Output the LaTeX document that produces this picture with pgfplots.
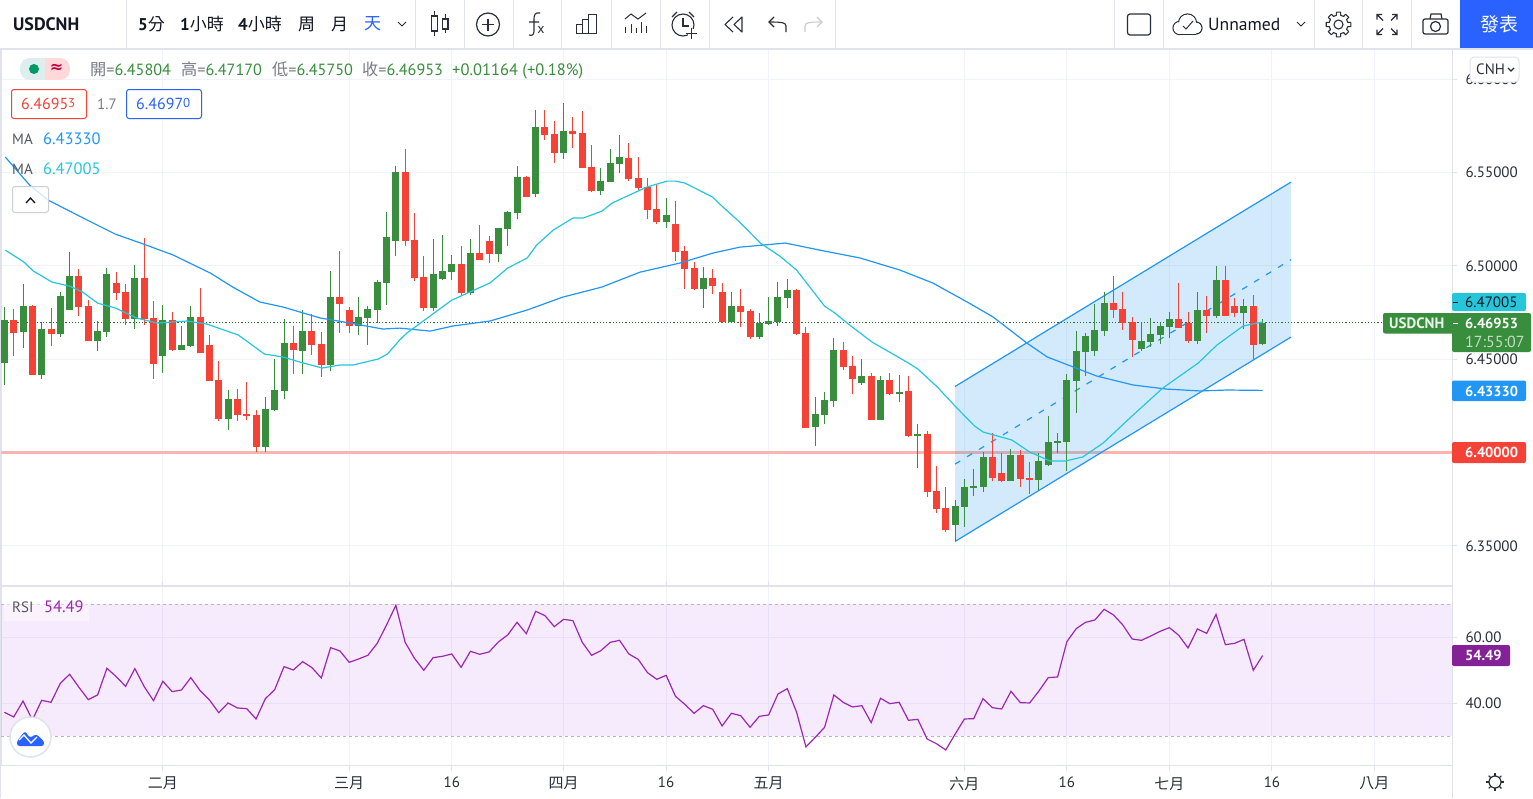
\documentclass[border=0pt]{standalone}
\usepackage{fontspec}
\usepackage{pgfplots}
\usepackage{pgfplotstable}
\pgfplotsset{compat=1.18}
\setmainfont{PT Sans}
\newfontfamily\cjk{Noto Sans CJK TC}
\newfontfamily\sym{DejaVu Sans}
\newcommand\fs[1]{\fontsize{#1}{#1}\selectfont}

\definecolor{upg}{HTML}{388E3C}
\definecolor{dnr}{HTML}{F44336}
\definecolor{gridc}{HTML}{F0F3FA}
\definecolor{framec}{HTML}{E0E3EB}
\definecolor{blueMA}{HTML}{2196F3}
\definecolor{cyanMA}{HTML}{26C6DA}
\definecolor{rsic}{HTML}{9C27B0}
\definecolor{bandc}{HTML}{A326EE}
\definecolor{dashc}{HTML}{BDB2C6}
\definecolor{txt}{HTML}{131722}
\definecolor{muted}{HTML}{787B86}
\definecolor{tvblue}{HTML}{2962FF}
\definecolor{iconc}{HTML}{2A2E39}

% i open high low close
\pgfplotstableread{
i o h l c
0 6.4482 6.4780 6.4362 6.4710
2 6.4646 6.4903 6.4560 6.4785
4 6.4416 6.4699 6.4395 6.4662
6 6.4635 6.4861 6.4619 6.4839
7 6.4764 6.5075 6.4764 6.4946
10 6.4598 6.4705 6.4544 6.4651
11 6.4646 6.4989 6.4619 6.4957
14 6.4716 6.5005 6.4662 6.4936
17 6.4518 6.4790 6.4427 6.4710
19 6.4550 6.4678 6.4550 6.4577
20 6.4571 6.4785 6.4566 6.4726
24 6.4180 6.4335 6.4121 6.4287
28 6.4029 6.4298 6.4003 6.4233
29 6.4228 6.4501 6.4222 6.4335
30 6.4330 6.4716 6.4287 6.4587
32 6.4544 6.4764 6.4421 6.4651
35 6.4469 6.4973 6.4437 6.4834
38 6.4678 6.4834 6.4630 6.4726
39 6.4721 6.4785 6.4577 6.4769
40 6.4764 6.4925 6.4695 6.4914
41 6.4909 6.5290 6.4791 6.5156
42 6.5134 6.5536 6.5054 6.5504
46 6.4774 6.5145 6.4758 6.4957
47 6.4930 6.5166 6.4925 6.4973
48 6.4968 6.5059 6.4925 6.5011
50 6.4855 6.5145 6.4844 6.5070
53 6.5064 6.5204 6.5021 6.5204
54 6.5199 6.5295 6.5107 6.5290
55 6.5284 6.5536 6.5250 6.5477
57 6.5386 6.5836 6.5370 6.5745
60 6.5605 6.5873 6.5573 6.5723
64 6.5402 6.5525 6.5380 6.5455
65 6.5450 6.5627 6.5450 6.5552
66 6.5546 6.5702 6.5498 6.5584
71 6.5236 6.5364 6.5204 6.5273
75 6.4877 6.4995 6.4775 6.4935
78 6.4700 6.4860 6.4700 6.4785
81 6.4619 6.4748 6.4609 6.4695
82 6.4689 6.4833 6.4684 6.4705
83 6.4700 6.4914 6.4679 6.4833
84 6.4828 6.4930 6.4775 6.4871
87 6.4137 6.4298 6.4035 6.4206
88 6.4201 6.4325 6.4153 6.4282
89 6.4276 6.4614 6.4244 6.4550
92 6.4373 6.4501 6.4362 6.4410
94 6.4174 6.4410 6.4174 6.4389
96 6.4314 6.4415 6.4271 6.4325
98 6.4088 6.4153 6.3917 6.4099
102 6.3611 6.3745 6.3526 6.3713
103 6.3708 6.3858 6.3601 6.3815
104 6.3810 6.3912 6.3767 6.3820
105 6.3815 6.4003 6.3788 6.3976
108 6.3847 6.4019 6.3847 6.3987
111 6.3853 6.3997 6.3799 6.3954
112 6.3933 6.4196 6.3928 6.4056
113 6.4051 6.4105 6.3997 6.4062
114 6.4056 6.4421 6.3901 6.4389
115 6.4383 6.4651 6.4212 6.4544
116 6.4539 6.4641 6.4410 6.4624
117 6.4544 6.4796 6.4517 6.4657
118 6.4651 6.4860 6.4624 6.4801
122 6.4555 6.4694 6.4544 6.4598
123 6.4592 6.4721 6.4566 6.4635
124 6.4630 6.4694 6.4582 6.4678
125 6.4673 6.4753 6.4614 6.4716
128 6.4598 6.4860 6.4582 6.4764
130 6.4732 6.5000 6.4721 6.4925
133 6.4748 6.4823 6.4662 6.4785
135 6.45804 6.47170 6.45750 6.46953
}\upcandles

\pgfplotstableread{
i o h l c
1 6.4710 6.4769 6.4518 6.4640
3 6.4785 6.4790 6.4416 6.4416
5 6.4662 6.4775 6.4571 6.4635
8 6.4946 6.4984 6.4732 6.4780
9 6.4785 6.4817 6.4598 6.4598
12 6.4909 6.4968 6.4817 6.4855
13 6.4861 6.4903 6.4684 6.4716
15 6.4936 6.5150 6.4684 6.4716
16 6.4721 6.4812 6.4395 6.4475
18 6.4710 6.4753 6.4544 6.4550
21 6.4726 6.4882 6.4534 6.4534
22 6.4577 6.4630 6.4383 6.4383
23 6.4389 6.4491 6.4169 6.4180
25 6.4287 6.4341 6.4169 6.4201
26 6.4206 6.4378 6.4174 6.4196
27 6.4201 6.4228 6.4003 6.4029
31 6.4587 6.4678 6.4421 6.4550
33 6.4651 6.4743 6.4523 6.4577
34 6.4582 6.4646 6.4405 6.4469
36 6.4834 6.5080 6.4640 6.4796
37 6.4764 6.4780 6.4640 6.4678
43 6.5504 6.5627 6.5107 6.5134
44 6.5139 6.5284 6.4919 6.4935
45 6.4941 6.5054 6.4758 6.4774
49 6.5011 6.5107 6.4844 6.4855
51 6.5070 6.5220 6.5032 6.5032
52 6.5134 6.5161 6.5016 6.5064
56 6.5477 6.5482 6.5370 6.5370
58 6.5745 6.5836 6.5675 6.5702
59 6.5707 6.5777 6.5551 6.5605
61 6.5723 6.5798 6.5632 6.5707
62 6.5712 6.5830 6.5525 6.5525
63 6.5530 6.5648 6.5396 6.5402
67 6.5579 6.5659 6.5455 6.5466
68 6.5471 6.5584 6.5407 6.5418
69 6.5423 6.5471 6.5250 6.5300
70 6.5305 6.5439 6.5225 6.5236
72 6.5225 6.5348 6.5027 6.5075
73 6.5080 6.5107 6.4877 6.4984
74 6.4989 6.5021 6.4871 6.4877
76 6.4935 6.4984 6.4850 6.4892
77 6.4860 6.4909 6.4700 6.4700
79 6.4785 6.4877 6.4672 6.4753
80 6.4758 6.4769 6.4609 6.4619
85 6.4871 6.4876 6.4630 6.4635
86 6.4641 6.4673 6.4131 6.4131
90 6.4550 6.4592 6.4442 6.4458
91 6.4464 6.4517 6.4314 6.4394
93 6.4410 6.4426 6.4174 6.4174
95 6.4389 6.4426 6.4308 6.4314
97 6.4330 6.4410 6.4083 6.4088
99 6.4099 6.4115 6.3761 6.3788
100 6.3794 6.3928 6.3676 6.3697
101 6.3702 6.3815 6.3574 6.3585
106 6.3976 6.4105 6.3847 6.3863
107 6.3890 6.3997 6.3842 6.3847
109 6.3987 6.4013 6.3815 6.3858
110 6.3863 6.3949 6.3778 6.3853
119 6.4801 6.4946 6.4721 6.4764
120 6.4769 6.4860 6.4657 6.4694
121 6.4700 6.4726 6.4512 6.4603
126 6.4716 6.4909 6.4668 6.4668
127 6.4694 6.4753 6.4587 6.4598
129 6.4764 6.4839 6.4641 6.4732
131 6.4925 6.5000 6.4732 6.4732
132 6.4785 6.4828 6.4726 6.4748
134 6.4785 6.4844 6.4501 6.4576
}\downcandles

\pgfplotstableread{
i v
0.1 6.5584
2.7 6.5434
4.7 6.5353
8.9 6.5246
11.9 6.5171
14.9 6.5118
18.1 6.5059
22.1 6.4962
24.5 6.4887
27.4 6.4807
29.9 6.4780
33.9 6.4721
37.1 6.4694
40.6 6.4662
42.4 6.4667
45.7 6.4651
48.1 6.4678
52.1 6.4705
56.1 6.4764
59.9 6.4833
64.1 6.4887
68.2 6.4967
72.5 6.5016
76.0 6.5069
78.9 6.5101
83.8 6.5123
87.5 6.5085
91.8 6.5043
96.1 6.4978
99.6 6.4909
103.3 6.4807
106.1 6.4726
109.7 6.4587
111.9 6.4512
117.2 6.4410
121.1 6.4362
124.7 6.4340
128.3 6.4330
131.2 6.4335
135.0 6.4333
}\maslow

\pgfplotstableread{
i v
0.1 6.5085
2.1 6.5021
3.1 6.4973
5.1 6.4914
7.0 6.4892
8.4 6.4860
10.0 6.4801
11.9 6.4775
14.2 6.4721
16.4 6.4694
19.6 6.4705
21.7 6.4689
25.1 6.4630
27.9 6.4528
29.9 6.4512
31.7 6.4485
34.1 6.4453
36.0 6.4469
37.4 6.4469
40.1 6.4501
41.1 6.4528
42.4 6.4603
43.2 6.4641
48.0 6.4817
52.1 6.4909
54.0 6.4989
56.1 6.5043
57.1 6.5112
58.9 6.5193
61.0 6.5257
62.1 6.5257
64.1 6.5294
65.2 6.5337
68.9 6.5423
71.1 6.5455
72.0 6.5455
73.0 6.5445
76.0 6.5369
77.1 6.5316
78.9 6.5235
81.1 6.5123
83.2 6.5053
85.0 6.4978
88.0 6.4785
89.1 6.4748
90.7 6.4683
93.1 6.4592
97.0 6.4480
98.0 6.4448
100.1 6.4351
102.0 6.4249
104.1 6.4142
105.0 6.4110
108.1 6.4067
110.0 6.4003
112.2 6.3954
113.8 6.3954
115.7 6.3976
117.9 6.4051
121.0 6.4196
124.3 6.4346
128.1 6.4480
130.1 6.4576
132.9 6.4678
135.0 6.4700
}\mafast

\pgfplotstableread{
i v
0 37.27
1 35.86
2 40.71
3 34.95
4 40.91
5 40.30
6 46.06
7 48.79
8 44.85
9 41.11
10 42.53
11 50.61
12 48.08
13 45.15
14 50.51
15 45.05
16 40.81
17 46.67
18 43.54
19 44.04
20 47.78
21 43.84
22 41.01
23 37.17
24 40.10
25 38.59
26 38.38
27 35.25
28 41.41
29 44.14
30 51.11
31 50.10
32 52.63
33 50.81
34 47.68
35 56.87
36 55.86
37 52.42
38 53.43
39 54.55
40 58.18
41 63.74
42 69.70
43 58.48
44 53.64
45 50.00
46 53.84
47 54.24
48 54.95
49 50.91
50 55.76
51 54.85
52 55.56
53 58.59
54 60.71
55 64.55
56 61.11
57 67.88
58 66.57
59 63.23
60 65.45
61 65.05
62 58.48
63 54.55
64 55.96
65 58.48
66 59.09
67 54.95
68 53.33
69 49.29
70 47.27
71 48.48
72 42.12
73 39.70
74 36.97
75 39.29
76 38.18
77 33.13
78 36.97
79 36.26
80 32.73
81 36.06
82 36.46
83 42.83
84 44.44
85 37.27
86 26.77
87 29.70
88 32.73
89 42.53
90 40.30
91 38.89
92 39.29
93 34.14
94 41.52
95 39.90
96 40.30
97 34.85
98 35.15
99 29.19
100 27.78
101 25.86
102 30.61
103 35.25
104 35.35
105 41.41
106 38.69
107 38.28
108 43.64
109 40.20
110 40.10
111 43.74
112 47.78
113 47.98
114 58.69
115 62.63
116 64.55
117 65.25
118 68.48
119 66.77
120 63.74
121 59.49
122 59.09
123 60.40
124 61.82
125 62.93
126 60.61
127 56.77
128 62.53
129 61.21
130 66.97
131 57.78
132 58.18
133 59.39
134 50.00
135 54.49
}\rsidata

\pgfplotsset{
  chartbase/.style={
    scale only axis, width=1451pt,
    xmin=-0.365, xmax=155.32,
    xtick={17,37,48,60,71,82,103,114,125,136,147},
    axis line style={draw=framec},
    grid=both, grid style={draw=gridc, line width=1pt},
    ytick pos=right, yticklabel pos=right,
    tick align=outside, major tick length=5pt,
    tick style={draw=framec, line width=1pt},
    tick label style={font=\fs{15}, text=iconc},
    /pgf/number format/assume math mode=true,
    /pgf/number format/fixed, /pgf/number format/fixed zerofill,
    clip=true,
  },
  wick/.style={draw=none, no marks, forget plot,
    error bars/y dir=plus, error bars/y explicit, error bars/error mark=none,
    error bars/error bar style={draw=#1, line width=1pt}},
  body/.style={draw=none, no marks, forget plot,
    error bars/y dir=plus, error bars/y explicit, error bars/error mark=none,
    error bars/error bar style={draw=#1, line width=7pt}},
}

\begin{document}
\begin{tikzpicture}[font=\fs{15}]
\useasboundingbox (0pt,0pt) rectangle (1533pt,-798pt);
\fill[white] (0pt,0pt) rectangle (1533pt,-798pt);

% price pane
\begin{axis}[chartbase, at={(1pt,-49pt)}, anchor=north west, height=536pt,
  ymin=6.32895, ymax=6.61635,
  ytick={6.35,6.40,6.45,6.50,6.55,6.60},
  xticklabels={}, xtick style={draw=none},
  /pgf/number format/precision=5,
  yticklabel style={anchor=west, xshift=5pt},
]
\addplot[draw=dnr!40, line width=3pt, forget plot] coordinates {(-1,6.40) (156,6.40)};
\addplot[fill=blueMA, fill opacity=0.2, draw=none, forget plot] coordinates {(102,6.3523) (138.05,6.4619) (138.05,6.5450) (102,6.4354)} --cycle;
\addplot[blueMA, line width=1.2pt, forget plot] coordinates {(102,6.3523) (138.05,6.4619)};
\addplot[blueMA, line width=1.2pt, forget plot] coordinates {(102,6.4354) (138.05,6.5450)};
\addplot[blueMA, line width=1.2pt, dash pattern=on 6pt off 8pt, forget plot] coordinates {(102,6.3938) (138.05,6.5034)};
\addplot[upg!80!black, line width=1pt, dash pattern=on 1.2pt off 2pt, forget plot] coordinates {(-1,6.46953) (156,6.46953)};
% wicks and bodies
\addplot[wick=upg] table[x=i, y=l, y error plus expr=\thisrow{h}-\thisrow{l}] {\upcandles};
\addplot[wick=dnr] table[x=i, y=l, y error plus expr=\thisrow{h}-\thisrow{l}] {\downcandles};
\addplot[body=upg] table[x=i, y=o, y error plus expr=\thisrow{c}-\thisrow{o}] {\upcandles};
\addplot[body=dnr] table[x=i, y=c, y error plus expr=\thisrow{o}-\thisrow{c}] {\downcandles};
% moving averages
\addplot[blueMA, line width=1.2pt] table[x=i, y=v] {\maslow};
\addplot[cyanMA, line width=1.2pt] table[x=i, y=v] {\mafast};
\end{axis}

% RSI pane
\begin{axis}[chartbase, at={(1pt,-586pt)}, anchor=north west, height=179.5pt,
  ymin=21.15, ymax=75.55,
  ytick={40,60},
  /pgf/number format/precision=2,
  xticklabels={{\cjk 二月},{\cjk 三月},16,{\cjk 四月},16,{\cjk 五月},{\cjk 六月},16,{\cjk 七月},16,{\cjk 八月}},
  xticklabel style={yshift=-3pt},
  yticklabel style={anchor=west, xshift=5pt},
]
\addplot[fill=bandc, fill opacity=0.095, draw=none, forget plot] coordinates {(-1,30) (156,30) (156,70) (-1,70)} --cycle;
\addplot[draw=dashc, dashed, line width=1pt, forget plot] coordinates {(-1,70) (156,70)};
\addplot[draw=dashc, dashed, line width=1pt, forget plot] coordinates {(-1,30) (156,30)};
\addplot[rsic, line width=1.2pt] table[x=i, y=v] {\rsidata};
\end{axis}

% chrome on top, in screen pixels
\begin{scope}[x=1pt, y=-1pt, inner sep=0pt]
\fill[white] (0,0) rectangle (1533,48);
\draw[framec, line width=2pt] (0,48.5) -- (1533,48.5);
\draw[framec, line width=1.5pt] (0,585.5) -- (1452,585.5);
\draw[framec, line width=1.5pt] (0,765.5) -- (1452,765.5);
\draw[framec, line width=1pt] (0.5,49) -- (0.5,798);
\draw[framec, line width=1pt] (1452.5,49) -- (1452.5,798);
\foreach \x in {126.5,415.5,464,513.5,561.5,611,660,709.5,835.5,1114.5,1163.5,1314.5,1362.5,1411.5}
  \draw[framec, line width=1pt] (\x,0) -- (\x,48);

% toolbar text
\node[anchor=west, font=\fs{18}\bfseries, text=txt] at (13,24) {USDCNH};
\node[anchor=west, font=\fs{17}, text=txt] at (138,24) {\textbf{5}{\cjk 分}};
\node[anchor=west, font=\fs{17}, text=txt] at (180,24) {\textbf{1}{\cjk 小時}};
\node[anchor=west, font=\fs{17}, text=txt] at (238,24) {\textbf{4}{\cjk 小時}};
\node[anchor=west, font=\fs{17}, text=txt] at (298,24) {\cjk 周};
\node[anchor=west, font=\fs{17}, text=txt] at (331,24) {\cjk 月};
\node[anchor=west, font=\fs{17}, text=tvblue] at (364,24) {\cjk 天};
\draw[iconc, line width=1pt] (398,22) -- (402,26) -- (406,22);
% candle icon
\draw[iconc, line width=1.1pt] (431.5,16) rectangle (437.5,31) (434.5,11) -- (434.5,16) (434.5,31) -- (434.5,36);
\draw[iconc, line width=1.1pt] (442.5,19) rectangle (448,29) (445.2,14) -- (445.2,19) (445.2,29) -- (445.2,33);
% add indicator
\draw[iconc, line width=1.2pt] (488,24.5) circle (11.5);
\draw[iconc, line width=1.2pt] (482,24.5) -- (494,24.5) (488,18.5) -- (488,30.5);
% fx
\draw[iconc, line width=1.1pt] (540,13) .. controls (535,12) and (534,15) .. (534,19) -- (534,31) .. controls (534,35) and (532,36) .. (529,35) (529,22) -- (539,22);
\node[font=\fs{14}, text=iconc] at (541,30) {x};
% bars
\draw[iconc, line width=1pt] (576,33) rectangle (582,24) (582,33) rectangle (588,19) (588,33) rectangle (596,14);
% chart
\draw[iconc, line width=1pt] (625,19) -- (631,14) -- (638,19) -- (646,13);
\foreach \x/\h in {625/27,631/24,636/28,641/22,646/26}
  \draw[iconc, line width=1pt] (\x,\h) -- (\x,33);
% alarm
\draw[iconc, line width=1.1pt] (683,25) circle (11);
\draw[iconc, line width=1.1pt] (683,18) -- (683,26) -- (689,26);
\draw[iconc, line width=1.1pt] (672,17) -- (677,12) (689,12) -- (694,17);
\fill[white] (688,29) rectangle (698,40);
\draw[iconc, line width=1.1pt] (686,33.5) -- (697,33.5) (691.5,28) -- (691.5,39);
% rewind, undo, redo
\draw[iconc, line width=1.1pt, line join=round] (733,17) -- (725,24.5) -- (733,32);
\draw[iconc, line width=1.1pt, line join=round] (742,17) -- (734,24.5) -- (742,32) -- cycle;
\draw[iconc, line width=1.1pt] (786,32) -- (786,26) .. controls (786,23) and (783,22) .. (770,22);
\draw[iconc, line width=1.1pt] (774,17) -- (769,22) -- (774,27);
\draw[gray!40, line width=1.1pt] (805,32) -- (805,26) .. controls (805,23) and (808,22) .. (821,22);
\draw[gray!40, line width=1.1pt] (817,17) -- (822,22) -- (817,27);
% right toolbar
\draw[iconc, line width=1.2pt, rounded corners=2.5pt] (1127.5,14) rectangle (1150.5,35);
\foreach \cx/\cy/\r in {1179.5/28/6.5,1187.5/23/9,1196/28/6}
  \draw[iconc, line width=1.2pt] (\cx,\cy) circle (\r);
\fill[white] (1179.5,28) circle (5.9) (1187.5,23) circle (8.4) (1196,28) circle (5.4);
\fill[white] (1179.5,24) rectangle (1196,34);
\draw[iconc, line width=1.2pt] (1179.5,34.5) -- (1196,34.5);
\draw[iconc, line width=1pt] (1183,26) -- (1186,29) -- (1193,21);
\node[anchor=west, font=\fs{17.6}, text=txt] at (1208,24) {Unnamed};
\draw[iconc, line width=1pt] (1297,22) -- (1301,26) -- (1305,22);
\foreach \a in {0,45,...,315}
  \draw[iconc, line width=1.1pt, shift={(1338.5,24.5)}, line join=round] (\a-10:12.5) -- (\a+10:12.5) -- (\a+13:9.5) -- (\a+32:9.5) -- (\a+35:12.5);
\draw[iconc, line width=1.1pt] (1338.5,24.5) circle (4.5);
\foreach \sx/\sy in {-1/-1,1/-1,-1/1,1/1}
  \draw[iconc, line width=1.2pt, shift={(1387,24.5)}] (\sx*4,\sy*4) -- (\sx*10,\sy*10) (\sx*10,\sy*5) -- (\sx*10,\sy*10) -- (\sx*5,\sy*10);
\draw[iconc, line width=1.2pt, rounded corners=2pt] (1423,34) rectangle (1448,19);
\draw[iconc, line width=1.2pt] (1430,19) -- (1431,14) -- (1441,14) -- (1442,19);
\draw[iconc, line width=1.2pt] (1435.5,26.5) circle (5);
\fill[tvblue] (1460,0) rectangle (1533,48);
\node[font=\fs{19}, text=white] at (1499,24) {\cjk 發表};

% header
\begin{scope}
\clip[rounded corners=10pt] (20,58) rectangle (70,80);
\fill[teal!13] (20,58) rectangle (45,80);
\fill[pink!60] (45,58) rectangle (70,80);
\end{scope}
\fill[teal!80!green] (34,69) circle (5);
\node[font=\sym\fs{16}\bfseries, text=purple] at (56.5,68.5) {≈};
\node[anchor=base west, font=\fs{16.2}, text=muted] at (90,75.5) {{\cjk 開}=\textcolor{upg}{6.45804}};
\node[anchor=base west, font=\fs{16.2}, text=muted] at (181,75.5) {{\cjk 高}=\textcolor{upg}{6.47170}};
\node[anchor=base west, font=\fs{16.2}, text=muted] at (272,75.5) {{\cjk 低}=\textcolor{upg}{6.45750}};
\node[anchor=base west, font=\fs{16.2}, text=muted] at (362,75.5) {{\cjk 收}=\textcolor{upg}{6.46953}};
\node[anchor=base west, font=\fs{16.5}, text=upg] at (452,75.5) {+0.01164 (+0.18\%)};
\draw[dnr, fill=white, rounded corners=2.5pt, line width=1pt] (11.5,89.5) rectangle (86.5,118.5);
\node[anchor=west, font=\fs{16}, text=dnr] at (21,104) {6.4695\raisebox{2pt}{\fs{13}3}};
\node[anchor=west, font=\fs{15}, text=muted] at (97,104) {1.7};
\draw[tvblue, fill=white, rounded corners=2.5pt, line width=1pt] (126.5,89.5) rectangle (201.5,118.5);
\node[anchor=west, font=\fs{16}, text=tvblue] at (136,104) {6.4697\raisebox{2pt}{\fs{13}0}};
\node[anchor=west, font=\fs{15}, text=muted!70!black] at (12,139) {MA};
\node[anchor=west, font=\fs{16.5}, text=blueMA] at (43,139) {6.43330};
\node[anchor=west, font=\fs{15}, text=muted!70!black] at (12,169) {MA};
\node[anchor=west, font=\fs{16.5}, text=cyanMA] at (43,169) {6.47005};
\draw[framec!80!gray, fill=white, fill opacity=0.8, rounded corners=2.5pt, line width=1pt] (12.5,186.5) rectangle (48.5,212.5);
\draw[txt, line width=1.3pt] (26,203) -- (30.5,198) -- (35,203);

% CNH button
\draw[framec, fill=white, rounded corners=4pt, line width=1pt] (1470,57) rectangle (1519,82);
\node[anchor=west, font=\fs{15}, text=iconc] at (1476,69.5) {CNH};
\draw[iconc, line width=1.1pt] (1508,68) -- (1511,71) -- (1514,68);

% price tags
\fill[cyanMA, rounded corners=2pt] (1452,293) rectangle (1526,311);
\node[anchor=west, font=\fs{15}, text=txt] at (1465,302) {6.47005};
\draw[txt, line width=1pt] (1453,302) -- (1458,302);
\fill[upg, rounded corners=2pt] (1383,313) rectangle (1531,333.5);
\fill[upg, rounded corners=2pt] (1452,330) rectangle (1531,352);
\node[anchor=west, font=\fs{15}\bfseries, text=white!90!upg] at (1389,323.5) {USDCNH};
\node[anchor=west, font=\fs{14.5}\bfseries, text=white] at (1465,323.5) {6.46953};
\node[anchor=west, font=\fs{16}, text=white!70!upg] at (1465,341.5) {17:55:07};
\draw[white, line width=1pt] (1453,323.5) -- (1458,323.5);
\fill[blueMA, rounded corners=2pt] (1452,380.5) rectangle (1526,401);
\node[anchor=west, font=\fs{14.5}\bfseries, text=white] at (1465,391) {6.43330};
\fill[dnr, rounded corners=2pt] (1452,442) rectangle (1526,463);
\node[anchor=west, font=\fs{14.5}\bfseries, text=white] at (1465,452.5) {6.40000};
\fill[rsic!85!black, rounded corners=2pt] (1452,645) rectangle (1510,666);
\node[anchor=west, font=\fs{14.5}\bfseries, text=white] at (1465,655.5) {54.49};

% RSI label and logo
\fill[white, opacity=0.45] (4,598) rectangle (89,621);
\node[anchor=west, font=\fs{15}, text=muted!70!black] at (12,607) {RSI};
\node[anchor=west, font=\fs{16.5}, text=rsic] at (44,607) {54.49};
\draw[framec, fill=white, line width=1.5pt] (30.5,737) ellipse (20.5 and 20);
\fill[tvblue, rounded corners=2.5pt] (17,746) -- (17,741) -- (25,731) -- (30,738) -- (36,734) -- (44,741) -- (44,746) -- cycle;
\draw[white, line width=1.3pt] (19,740) -- (24,735) -- (31,743) -- (37,737);
% sun icon
\draw[iconc, line width=1.2pt] (1495,782) circle (6);
\foreach \a in {0,45,...,315}
  \draw[iconc, line width=1.1pt] (1495,782) ++(\a:6) -- ++(\a:3);
\end{scope}
\end{tikzpicture}
\end{document}
